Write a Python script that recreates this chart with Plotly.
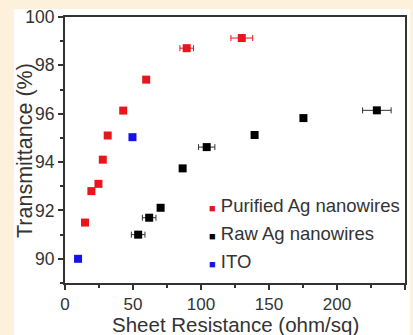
import plotly.graph_objects as go

# Data
purified_R = [14.7, 19.4, 24.6, 27.8, 31.4, 42.8, 59.7, 89.5, 130.0]
purified_T = [91.5, 92.8, 93.1, 94.1, 95.1, 96.13, 97.41, 98.71, 99.13]
purified_err = [0, 0, 0, 0, 0, 0, 0, 5, 8]

raw_R = [53.8, 61.9, 70.3, 86.5, 104.2, 139.4, 175.3, 229.3]
raw_T = [91.0, 91.7, 92.11, 93.74, 94.62, 95.12, 95.82, 96.14]
raw_err = [5, 5, 0, 2, 6, 2, 2, 10.5]

ito_R = [9.6, 49.6]
ito_T = [90.0, 95.03]

series_names = ["Purified Ag nanowires", "Raw Ag nanowires", "ITO"]
series_colors = ["#E8141E", "#000000", "#1414E6"]

x_ticks = [0, 50, 100, 150, 200, 250]
y_ticks = [90, 92, 94, 96, 98, 100]

FONT = "Liberation Sans, Arial, sans-serif"
TXT = "#333333"
CREAM = "#FDF1DB"

fig = go.Figure()

fig.add_trace(go.Scatter(
    x=purified_R, y=purified_T, mode="markers", name=series_names[0],
    marker=dict(symbol="square", size=8, color=series_colors[0]),
    error_x=dict(type="data", array=purified_err, color=series_colors[0], thickness=1, width=3),
))
fig.add_trace(go.Scatter(
    x=raw_R, y=raw_T, mode="markers", name=series_names[1],
    marker=dict(symbol="square", size=8, color=series_colors[1]),
    error_x=dict(type="data", array=raw_err, color="#333333", thickness=1, width=3),
))
fig.add_trace(go.Scatter(
    x=ito_R, y=ito_T, mode="markers", name=series_names[2],
    marker=dict(symbol="square", size=8, color=series_colors[2]),
))

W, H = 413, 335
ml, mr, mt, mb = 65, 8, 17, 52
pw, ph = W - ml - mr, H - mt - mb
def px(xp):
    return (xp - ml) / pw
def py(yp):
    return (H - mb - yp) / ph

# Cream border strips around the white panel
for (x0, x1, y0, y1) in [(0, 14, 0, H), (0, W, 0, 9), (410, W, 0, H)]:
    fig.add_shape(type="rect", xref="paper", yref="paper",
                  x0=px(x0), x1=px(x1), y0=py(y1), y1=py(y0),
                  fillcolor=CREAM, line=dict(width=0), layer="above")

# Legend as annotations
legend_y = [205, 233, 261]
for name, col, yy in zip(series_names, series_colors, legend_y):
    fig.add_annotation(
        xref="paper", yref="paper", x=px(207), y=py(yy), xanchor="left", yanchor="middle",
        text=f"<span style='color:{col};font-size:11px'>■</span> {name}",
        showarrow=False, font=dict(family=FONT, size=18.5, color=TXT),
    )

# Axis titles
fig.add_annotation(xref="paper", yref="paper", x=px(235), y=py(324), xanchor="center", yanchor="middle",
                   text="Sheet Resistance (ohm/sq)", showarrow=False,
                   font=dict(family=FONT, size=20.5, color=TXT))
fig.add_annotation(xref="paper", yref="paper", x=px(25), y=py(151), xanchor="center", yanchor="middle",
                   text="Transmittance (%)", showarrow=False, textangle=-90,
                   font=dict(family=FONT, size=21.5, color=TXT))

axis_common = dict(
    showline=True, linecolor="#333333", linewidth=2, mirror=True,
    ticks="outside", ticklen=5, tickwidth=1.5, tickcolor="#333333",
    showgrid=False, zeroline=False, automargin=False,
    tickfont=dict(family=FONT, size=17.5, color=TXT),
)

fig.update_layout(
    width=W, height=H,
    margin=dict(l=ml, r=mr, t=mt, b=mb),
    paper_bgcolor="white", plot_bgcolor="white",
    showlegend=False,
    xaxis=dict(range=[0, 250], tickvals=x_ticks, ticklabelstandoff=0,
               tickfont=dict(family=FONT, size=17, color=TXT),
               minor=dict(ticks="outside", ticklen=3, dtick=25, tickcolor="#333333"),
               **{k: v for k, v in axis_common.items() if k != "tickfont"}),
    yaxis=dict(range=[89, 100], tickvals=y_ticks,
               minor=dict(ticks="outside", ticklen=3, dtick=1, tickcolor="#333333"),
               **axis_common),
)

fig.write_html("out.html", config={"displayModeBar": False},
               post_script="document.body.style.margin='0px';")
